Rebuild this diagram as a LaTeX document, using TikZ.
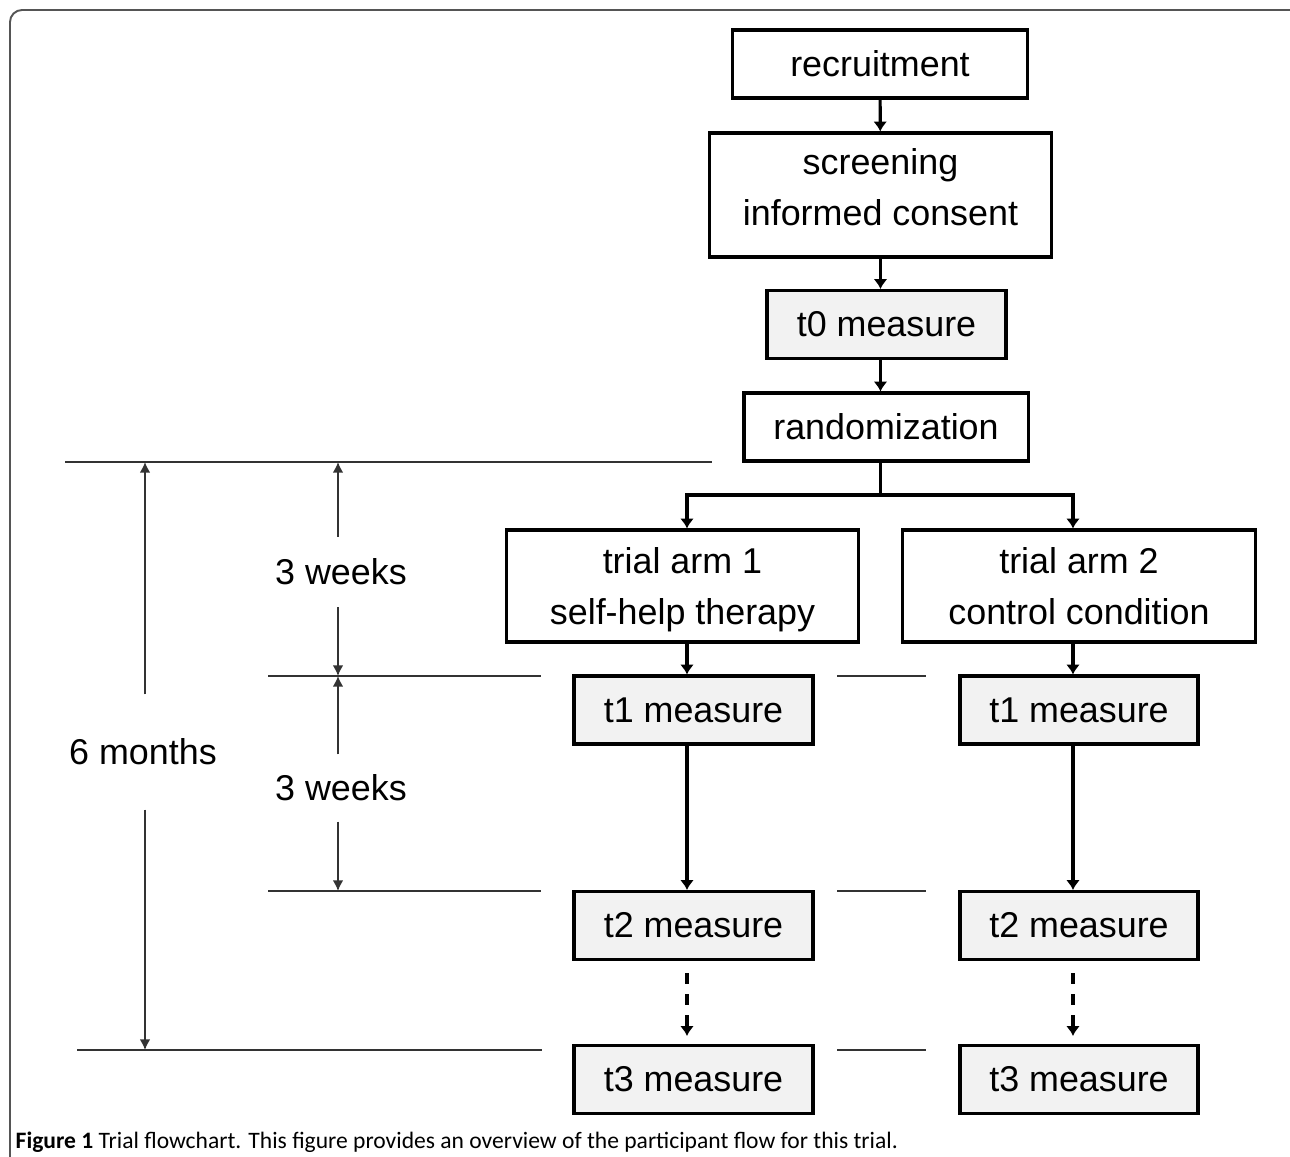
\documentclass[tikz,border=0pt]{standalone}
\usepackage{fontspec}
\setmainfont{Liberation Sans}
\newfontfamily\capfont{Carlito}
\usepackage{tikz}
\usetikzlibrary{arrows.meta}
\usetikzlibrary{positioning}
\definecolor{measuregray}{HTML}{F2F2F2}
\definecolor{framegray}{HTML}{555555}

\begin{document}
\begin{tikzpicture}[x=0.01cm,y=-0.01cm]
      \tikzstyle{stage}=[draw, line width=0.9pt, inner sep=0pt, align=center,
                         font=\fontsize{10.2}{14.6}\selectfont]
      \tikzstyle{measurebox}=[stage, fill=measuregray, minimum width=2.39cm, minimum height=0.68cm]
      \tikzstyle{flow}=[line width=0.9pt, -{Latex[length=2.8pt,width=4pt]}]
      \tikzstyle{dimline}=[line width=0.45pt, black!80, -{Latex[length=3pt,width=3pt]}]
      \tikzstyle{guide}=[line width=0.45pt, black!80]
      \tikzstyle{dimlabel}=[inner sep=0pt, font=\fontsize{10.2}{12}\selectfont]
      \useasboundingbox (0,0) rectangle (1290,1157);

      % frame
      \draw[framegray, line width=0.55pt, rounded corners=0.12cm] (10,1157) -- (10,10) -- (1290,10);

      % flow
      \node[stage, minimum width=2.95cm, minimum height=0.68cm] (rec) at (880,64)    {recruitment};
      \node[stage, minimum width=3.41cm, minimum height=1.24cm] (scr) at (880.5,195) {screening\\informed consent\strut};
      \node[measurebox]                                         (t0)  at (886.5,324.5) {t0 measure};
      \node[stage, minimum width=2.84cm, minimum height=0.68cm] (rnd) at (886,427)   {randomization};

      \node[stage, minimum width=3.51cm, minimum height=1.12cm] (arm1) at (682.5,586) {\rule{0pt}{11.9pt}trial arm 1\\self-help therapy\strut};
      \node[stage, minimum width=3.52cm, minimum height=1.12cm] (arm2) at (1079,586)  {\rule{0pt}{11.9pt}trial arm 2\\control condition\strut};

      \node[measurebox] (t1a) at (693.5,710)    {t1 measure};
      \node[measurebox] (t2a) at (693.5,925.5)  {t2 measure};
      \node[measurebox] (t3a) at (693.5,1079.5) {t3 measure};
      \node[measurebox, minimum width=2.38cm] (t1b) at (1079,710)    {t1 measure};
      \node[measurebox, minimum width=2.38cm] (t2b) at (1079,925.5)  {t2 measure};
      \node[measurebox, minimum width=2.38cm] (t3b) at (1079,1079.5) {t3 measure};

      \coordinate (colA) at (687,0);
      \coordinate (colB) at (1073,0);
      \coordinate (fork) at (880.5,495);

      \draw[flow] (rec) -- (scr);
      \draw[flow] (scr.south) -- (scr.south |- t0.north);
      \draw[flow] (t0.south -| scr.south) -- (rnd.north -| scr.south);
      \draw[line width=0.9pt] (rnd.south -| scr.south) -- (fork);
      \draw[flow] (fork) -| (arm1.north -| colA);
      \draw[flow] (fork) -| (arm2.north -| colB);

      \draw[flow] (arm1.south -| colA) -- (t1a.north -| colA);
      \draw[flow] (t1a.south -| colA)  -- (t2a.north -| colA);
      \draw[flow, dashed, shorten <=0.12cm, shorten >=0.08cm] (t2a.south -| colA) -- (t3a.north -| colA);
      \draw[flow] (arm2.south -| colB) -- (t1b.north -| colB);
      \draw[flow] (t1b.south -| colB)  -- (t2b.north -| colB);
      \draw[flow, dashed, shorten <=0.12cm, shorten >=0.08cm] (t2b.south -| colB) -- (t3b.north -| colB);

      % time scale
      \draw[guide] (65,462)  -- (712,462);
      \draw[guide] (268,676) -- (541,676);
      \draw[guide] (268,891) -- (541,891);
      \draw[guide] (77,1050) -- (542,1050);
      \foreach \y in {676,891,1050}
        \draw[guide] (837,\y) -- (926,\y);

      \coordinate (sixtop) at (145,462);
      \coordinate (sixbot) at (145,1050);
      \coordinate (wtop)   at (338,462);
      \coordinate (wmid)   at (338,676);
      \coordinate (wbot)   at (338,891);

      \node[dimlabel, minimum height=1.14cm] (six) at (143,752)   {6 months};
      \node[dimlabel, minimum height=0.69cm] (wk1) at (341,572) {3 weeks};
      \node[dimlabel, minimum height=0.66cm] (wk2) at (341,788)   {3 weeks};

      \draw[dimline] (six.north -| sixtop) -- (sixtop);
      \draw[dimline] (six.south -| sixtop) -- (sixbot);
      \draw[dimline] (wk1.north -| wtop) -- (wtop);
      \draw[dimline] (wk1.south -| wtop) -- (wmid);
      \draw[dimline] (wk2.north -| wtop) -- (wmid);
      \draw[dimline] (wk2.south -| wtop) -- (wbot);

      % caption
      \node[anchor=base west, inner sep=0pt, font=\capfont\fontsize{6.7}{8}\selectfont] (caption) at (15,1148)
        {\textbf{Figure 1} Trial flowchart. This figure provides an overview of the participant flow for this trial.};
\end{tikzpicture}
\end{document}
